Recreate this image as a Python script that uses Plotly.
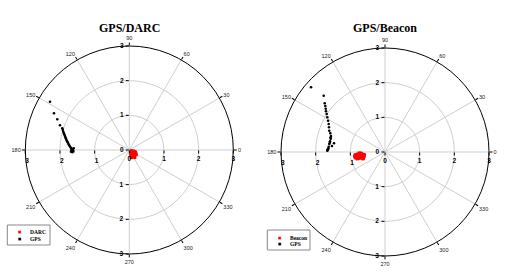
import numpy as np
import plotly.graph_objects as go

# ---------------- data (east, north offsets) ----------------
darc_gps_e = [-2.287, -2.172, -2.077, -1.999, -1.933, -1.918, -1.904, -1.890, -1.875, -1.860,
              -1.846, -1.832, -1.817, -1.797, -1.777, -1.758, -1.739, -1.720, -1.702, -1.680,
              -1.661, -1.640, -1.624, -1.644, -1.682, -1.604, -1.655, -1.630, -1.670, -1.615]
darc_gps_n = [1.393, 1.059, 0.886, 0.712, 0.626, 0.575, 0.528, 0.490, 0.453, 0.414,
              0.375, 0.336, 0.297, 0.260, 0.222, 0.183, 0.144, 0.115, 0.087, 0.058,
              0.029, 0.010, -0.009, -0.066, -0.049, 0.049, -0.030, 0.030, -0.010, -0.045]

darc_e = [0.05, 0.08, 0.12, 0.15, 0.18, 0.10, 0.14, 0.19, 0.06, 0.09, 0.12, 0.16,
          0.07, 0.11, 0.15, 0.05, 0.09, 0.13, 0.07, 0.15, 0.06, 0.16, 0.04, 0.20, 0.17, 0.13]
darc_n = [-0.02, -0.03, -0.03, -0.05, -0.06, -0.06, -0.08, -0.10, -0.09, -0.10, -0.11, -0.12,
          -0.13, -0.14, -0.15, -0.16, -0.17, -0.17, -0.20, -0.20, -0.22, -0.22, -0.12, -0.14, -0.08, -0.05]

bea_gps_e = [-2.134, -1.768, -1.739, -1.722, -1.710, -1.702, -1.682, -1.664, -1.644, -1.624,
             -1.615, -1.607, -1.578, -1.558, -1.566, -1.586, -1.607, -1.624, -1.644, -1.664,
             -1.471, -1.529, -1.592, -1.570, -1.655, -1.635]
bea_gps_n = [1.866, 1.624, 1.405, 1.327, 1.249, 1.174, 1.096, 1.001, 0.903, 0.808,
             0.712, 0.614, 0.539, 0.461, 0.384, 0.309, 0.231, 0.153, 0.078, 0.037,
             0.251, 0.173, 0.270, 0.420, 0.060, 0.110]

bea_e = [-0.86, -0.82, -0.78, -0.74, -0.70, -0.66, -0.62, -0.59, -0.88, -0.84, -0.80, -0.76,
         -0.72, -0.68, -0.64, -0.60, -0.86, -0.82, -0.78, -0.74, -0.70, -0.66, -0.62,
         -0.75, -0.71, -0.68, -0.80, -0.64]
bea_n = [-0.08, -0.07, -0.06, -0.05, -0.05, -0.06, -0.07, -0.08, -0.12, -0.12, -0.11, -0.11,
         -0.11, -0.12, -0.12, -0.13, -0.17, -0.17, -0.18, -0.18, -0.17, -0.17, -0.18,
         -0.03, -0.03, -0.04, -0.20, -0.20]

angle_ticks = [0, 30, 60, 90, 120, 150, 180, 210, 240, 270, 300, 330]
radial_ticks_full = [0, 1, 2, 3]
radial_ticks_part = [1, 2, 3]
titles = ["GPS/DARC", "GPS/Beacon"]
series_names = [("DARC", "GPS"), ("Beacon", "GPS")]
series_colors = ("#ff0000", "black")


def to_polar(e, n):
    e = np.asarray(e, float)
    n = np.asarray(n, float)
    return np.hypot(e, n), np.degrees(np.arctan2(n, e)) % 360


fig = go.Figure()

W, H = 509, 277
charts = [
    dict(cx=129.3, cy=150, R=104, gps=(darc_gps_e, darc_gps_n), red=(darc_e, darc_n),
         box=(7.3, 225, 50, 245), rows=(232.3, 239), mx=19, tx=27.5),
    dict(cx=385, cy=152, R=104, gps=(bea_gps_e, bea_gps_n), red=(bea_e, bea_n),
         box=(267.3, 230, 310, 250), rows=(238, 244.3), mx=279, tx=287.5),
]

layout = dict(width=W, height=H, margin=dict(l=0, r=0, t=0, b=0),
              paper_bgcolor="white", plot_bgcolor="white", annotations=[], shapes=[],
              showlegend=False)

grid = "#cfcfcf"
tickfont_ang = dict(family="Arial, Liberation Sans", size=5.5, color="#222")
tickfont_rad = dict(family="Arial, Liberation Sans", size=6.5, color="black", weight="bold")
legfont = dict(family="Liberation Serif, Times New Roman, serif", size=5.5, color="black")

pid = 1
for ci, c in enumerate(charts):
    dom_x = [(c["cx"] - c["R"]) / W, (c["cx"] + c["R"]) / W]
    dom_y = [(H - c["cy"] - c["R"]) / H, (H - c["cy"] + c["R"]) / H]
    # four stacked polar subplots: 0 (main), 90, 180, 270 radial label axes
    specs = [(0, "clockwise", radial_ticks_full, True),
             (90, "counterclockwise", radial_ticks_full, False),
             (180, "counterclockwise", radial_ticks_part, False),
             (270, "clockwise", radial_ticks_part, False)]
    main_name = None
    for ang, side, tv, main in specs:
        name = "polar" if pid == 1 else f"polar{pid}"
        if main:
            main_name = name
        layout[name] = dict(
            domain=dict(x=dom_x, y=dom_y),
            bgcolor="white" if main else "rgba(0,0,0,0)",
            radialaxis=dict(range=[0, 3], angle=ang, side=side, tickvals=tv,
                            ticktext=[str(v) for v in tv], showline=False,
                            showgrid=main, gridcolor=grid, gridwidth=1,
                            ticks="outside", ticklen=3, tickcolor="black",
                            tickfont=tickfont_rad, tickangle=ang if ang <= 180 else ang - 360),
            angularaxis=dict(visible=main, direction="counterclockwise", rotation=0,
                             tickvals=angle_ticks, ticktext=[str(a) for a in angle_ticks],
                             showline=True, linecolor="black", linewidth=1,
                             showgrid=True, gridcolor=grid, gridwidth=1,
                             ticks="outside", ticklen=3, tickcolor="black",
                             tickfont=tickfont_ang),
        )
        if not main:
            fig.add_trace(go.Scatterpolar(r=[], theta=[], subplot=name, showlegend=False,
                                          hoverinfo="skip"))
        pid += 1

    red_name, gps_name = series_names[ci]
    rr, th = to_polar(*c["red"])
    fig.add_trace(go.Scatterpolar(r=rr, theta=th, mode="markers", name=red_name,
                                  subplot=main_name,
                                  marker=dict(color=series_colors[0], size=3, symbol="square")))
    rg, tg = to_polar(*c["gps"])
    fig.add_trace(go.Scatterpolar(r=rg, theta=tg, mode="markers", name=gps_name,
                                  subplot=main_name,
                                  marker=dict(color=series_colors[1], size=2.6, symbol="circle")))

    # compact legend box (drawn like the original's small legend)
    x0, y0, x1, y1 = c["box"]
    layout["shapes"].append(dict(type="rect", xref="paper", yref="paper",
                                 x0=x0 / W, x1=x1 / W, y0=1 - y0 / H, y1=1 - y1 / H,
                                 line=dict(color="#888", width=1), fillcolor="white"))
    for nm, col, yy in zip((red_name, gps_name), series_colors, c["rows"]):
        layout["annotations"].append(dict(
            text="■", x=c["mx"] / W, y=1 - yy / H, xref="paper", yref="paper",
            showarrow=False, xanchor="center", yanchor="middle",
            font=dict(family="DejaVu Sans", size=3.5, color=col)))
        layout["annotations"].append(dict(
            text=f"<b>{nm}</b>", x=c["tx"] / W, y=1 - yy / H, xref="paper", yref="paper",
            showarrow=False, xanchor="left", yanchor="middle", font=legfont))

    layout["annotations"].append(dict(
        text=f"<b>{titles[ci]}</b>", x=c["cx"] / W, y=1 - 28 / H, xref="paper", yref="paper",
        showarrow=False, xanchor="center", yanchor="middle",
        font=dict(family="Liberation Serif, Times New Roman, serif", size=12, color="black")))

fig.update_layout(**layout)
fig.write_html("out.html")
